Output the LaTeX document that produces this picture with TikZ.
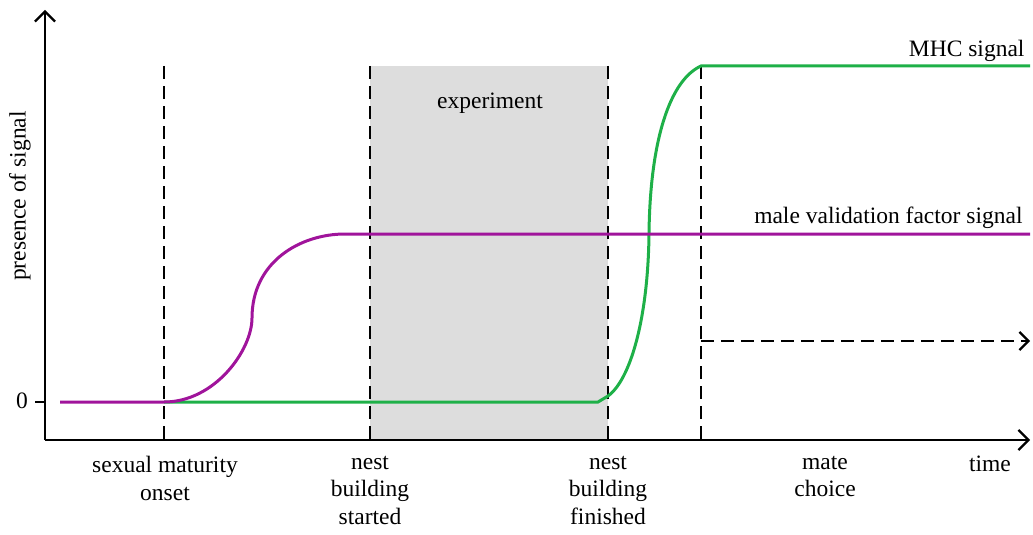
\documentclass[tikz,border=0pt]{standalone}
\usepackage{fontspec}
\setmainfont{Liberation Serif}
\usetikzlibrary{arrows.meta,positioning}

\definecolor{mvfcol}{RGB}{160,20,155}
\definecolor{mhccol}{RGB}{30,176,72}
\definecolor{expcol}{RGB}{221,221,221}

\begin{document}
\begin{tikzpicture}[x=1pt,y=-1pt,font=\fontsize{23.5}{27.5}\selectfont]
          \tikzstyle{axis}=[line width=2.2pt,-{Straight Barb[length=10pt,width=20pt,line width=2.2pt]}]
          \tikzstyle{marker}=[line width=2.4pt,dash pattern=on 13pt off 7pt]
          \tikzstyle{signal}=[line width=3pt]
          \tikzstyle{event}=[align=center,anchor=north,inner sep=0pt]

          \useasboundingbox (0,0) rectangle (1033,535);

          % axes
          \coordinate (o)    at (45,440);
          \coordinate (ytop) at (45,10);
          \coordinate (xend) at (1030,440);
          \coordinate (zero) at (45,402);
          \coordinate (tick) at (35,402);

          % event times
          \coordinate (sexmat) at (164,440);
          \coordinate (nestA)  at (370,440);
          \coordinate (nestB)  at (608,440);
          \coordinate (mate)   at (701,440);
          \coordinate (sexmatT) at (164,66);
          \coordinate (nestAT)  at (370,66);
          \coordinate (nestBT)  at (608,66);
          \coordinate (mateT)   at (701,66);

          \fill[expcol] (nestAT) rectangle (nestB);

          \draw[axis] (o) -- (ytop);
          \draw[axis] (o) -- (xend);
          \draw[line width=2.2pt] (tick) -- (zero);

          \draw[marker] (sexmatT) -- (sexmat);
          \draw[marker] (nestAT)  -- (nestA);
          \draw[marker] (nestBT)  -- (nestB);
          \draw[marker] (mateT)   -- (mate);

          % male validation factor signal
          \coordinate (mvfA) at (60,402);
          \coordinate (mvfB) at (164,402);
          \coordinate (mvfC) at (252,318);
          \coordinate (mvfD) at (345,234);
          \coordinate (mvfE) at (1030,234);

          % MHC signal
          \coordinate (mhcA) at (598,402);
          \coordinate (mhcB) at (608,396);
          \coordinate (mhcC) at (649,234);
          \coordinate (mhcD) at (701,66);
          \coordinate (mhcE) at (1030,66);

          \draw[signal,mhccol] (mvfB) -- (mhcA) -- (mhcB)
                .. controls (630,380) and (648,320) .. (mhcC)
                .. controls (650,140) and (670,80) .. (mhcD) -- (mhcE);
          \draw[signal,mvfcol] (mvfA) -- (mvfB)
                .. controls (215,402) and (252,350) .. (mvfC)
                .. controls (252,262) and (300,234) .. (mvfD) -- (mvfE);

          \coordinate (choice) at (701,341);
          \coordinate (later)  at (1030,341);
          \draw[marker,-{Straight Barb[length=9pt,width=18pt,line width=2.2pt]}] (choice) -- (later);

          % labels
          \node (y0)   at (22,401) {0};
          \node[rotate=90] (ylab) at (20,196) {presence of signal};
          \node[anchor=base east] (mhclab) at (1028,57)  {MHC signal};
          \node[anchor=base east] (mvflab) at (1026,223) {male validation factor signal};
          \node[anchor=base] (explab) at (490,108) {experiment};
          \node[event] (t1) at (165,456) {sexual maturity\\onset};
          \node[event] (t2) at (370,456) {nest\\building\\started};
          \node[event] (t3) at (608,456) {nest\\building\\finished};
          \node[event] (t4) at (825,456) {mate\\choice};
          \node[event] (tl) at (990,456) {time};
        \end{tikzpicture}
\end{document}
